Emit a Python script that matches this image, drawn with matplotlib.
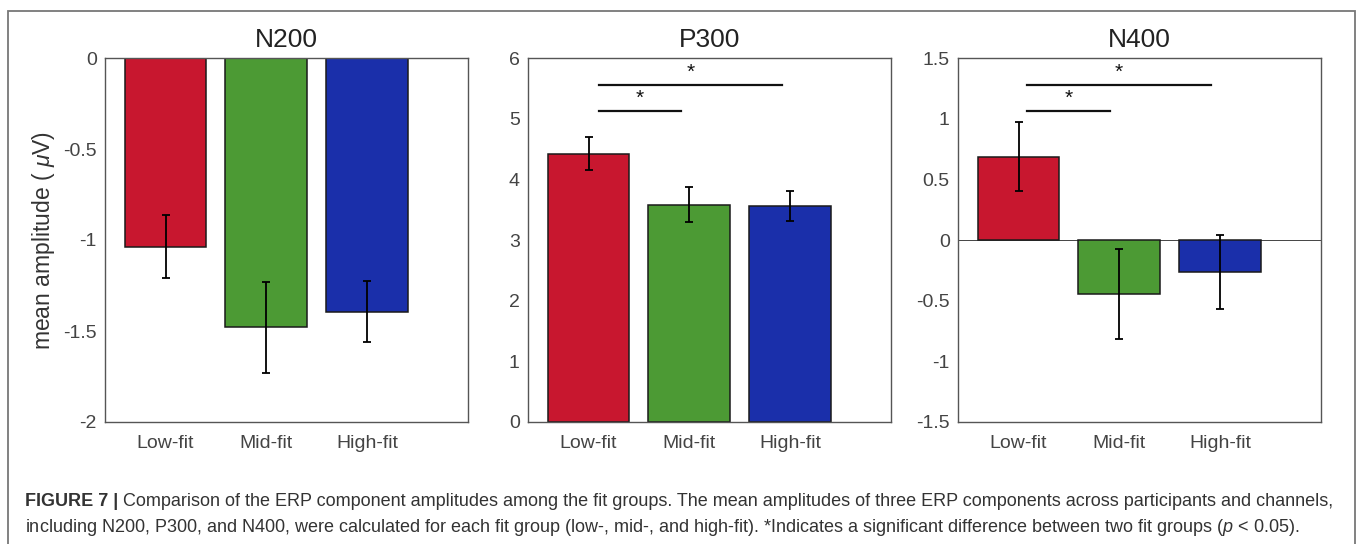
import matplotlib
matplotlib.use("Agg")
import matplotlib.pyplot as plt
from matplotlib.patches import Rectangle

plt.rcParams['font.family'] = ['Liberation Sans', 'DejaVu Sans']
plt.rcParams['axes.unicode_minus'] = False
plt.rcParams['mathtext.fontset'] = 'custom'
plt.rcParams['mathtext.rm'] = 'Liberation Sans'
plt.rcParams['mathtext.it'] = 'Liberation Sans:italic'

groups = ['Low-fit', 'Mid-fit', 'High-fit']
bar_colors = ['#C8172F', '#4C9A34', '#1A2FAA']

titles = ['N200', 'P300', 'N400']
means = [
    [-1.037, -1.48, -1.394],
    [4.42, 3.58, 3.56],
    [0.688, -0.446, -0.261],
]
errs = [
    [0.172, 0.25, 0.166],
    [0.27, 0.29, 0.24],
    [0.283, 0.374, 0.306],
]
ylims = [(-2, 0), (0, 6), (-1.5, 1.5)]
yticks = [
    [-2, -1.5, -1, -0.5, 0],
    [0, 1, 2, 3, 4, 5, 6],
    [-1.5, -1, -0.5, 0, 0.5, 1, 1.5],
]
ytick_labels = [
    ['-2', '-1.5', '-1', '-0.5', '0'],
    ['0', '1', '2', '3', '4', '5', '6'],
    ['-1.5', '-1', '-0.5', '0', '0.5', '1', '1.5'],
]
# significance brackets: (x start, x end, y) per panel
sig_lines = [
    [],
    [(0.9, 1.72, 5.12), (0.9, 2.72, 5.55)],
    [(0.88, 1.71, 1.06), (0.88, 2.71, 1.275)],
]

fig = plt.figure(figsize=(13.57, 5.44), dpi=100)
W, H = 1357, 544

lefts = [105, 528, 958]
ax_w = 363
ax_top, ax_bot = 58, 422
x = [0.8, 1.8, 2.8]

for i in range(3):
    ax = fig.add_axes([lefts[i] / W, 1 - ax_bot / H, ax_w / W, (ax_bot - ax_top) / H])
    ax.bar(x, means[i], width=0.81, color=bar_colors, edgecolor='#1a1a1a', linewidth=1.1, zorder=2)
    ax.errorbar(x, means[i], yerr=errs[i], fmt='none', ecolor='black', elinewidth=1.3,
                capsize=3, capthick=1.3, zorder=3)
    ax.set_xlim(0.2, 3.8)
    ax.set_ylim(*ylims[i])
    ax.set_yticks(yticks[i])
    ax.set_yticklabels(ytick_labels[i])
    ax.set_xticks(x)
    ax.set_xticklabels(groups)
    ax.tick_params(axis='both', length=0, labelsize=14, colors='#444444')
    ax.tick_params(axis='x', pad=9)
    ax.tick_params(axis='y', pad=6)
    for s in ax.spines.values():
        s.set_color('#555555')
        s.set_linewidth(1.0)
    ax.set_title(titles[i], fontsize=19, pad=8, color='#222222')
    if ylims[i][0] < 0 < ylims[i][1]:
        ax.axhline(0, color='#444444', linewidth=0.7, zorder=1)
    span = ylims[i][1] - ylims[i][0]
    for x0, x1, y in sig_lines[i]:
        ax.plot([x0, x1], [y, y], color='#111111', linewidth=1.6, zorder=3)
        ax.text((x0 + x1) / 2, y + span * 0.01, '*', ha='center', va='bottom',
                fontsize=15, color='#111111')
    if i == 0:
        ax.set_ylabel('mean amplitude ( $\\mu$V)', fontsize=16.5, color='#333333', labelpad=4)

# outer frame
fig.add_artist(Rectangle((8 / W, -0.05), 1347 / W, 1.05 - 11 / H, transform=fig.transFigure,
                         fill=False, edgecolor='#777777', linewidth=1.3))

# caption
renderer = fig.canvas.get_renderer()
cx = 25 / W
y1 = 1 - 502 / H
y2 = 1 - 527 / H
t = fig.text(cx, y1, 'FIGURE 7 | ', fontsize=13, fontweight='bold', color='#333333', va='center')
bb = t.get_window_extent(renderer)
fig.text(bb.x1 / W, y1,
         'Comparison of the ERP component amplitudes among the fit groups. The mean amplitudes of three '
         'ERP components across participants and channels,',
         fontsize=13, color='#333333', va='center')
fig.text(cx, y2,
         'including N200, P300, and N400, were calculated for each fit group (low-, mid-, and high-fit). '
         '*Indicates a significant difference between two fit groups ($p$ < 0.05).',
         fontsize=13, color='#333333', va='center')

fig.savefig('out.png', dpi=100)
